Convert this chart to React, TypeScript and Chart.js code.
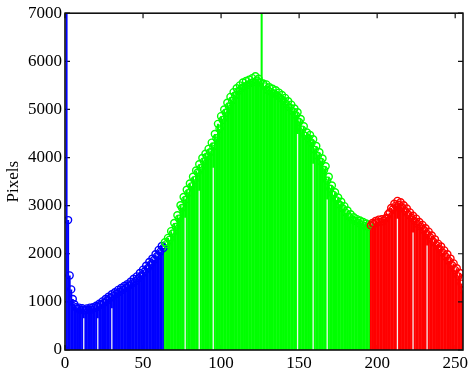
import { useEffect, useRef } from "react";
import { Chart, registerables } from "chart.js";

Chart.register(...registerables);

// Histogram counts for gray levels 0..255
const binCounts: number[] = [
  0, 9500, 2700, 1550, 1260, 1060, 950, 890, 860, 880, 830, 870, 840, 820, 865, 835,
  880, 840, 890, 870, 920, 900, 960, 940, 1010, 980, 1060, 1030, 1110, 1080, 1160, 1120,
  1200, 1170, 1250, 1210, 1290, 1250, 1330, 1290, 1370, 1340, 1420, 1380, 1480, 1430, 1530, 1490,
  1600, 1550, 1670, 1630, 1750, 1700, 1830, 1780, 1900, 1870, 1990, 1950, 2080, 2040, 2160, 2120,
  2240, 2200, 2330, 2290, 2470, 2420, 2640, 2560, 2800, 2730, 3010, 2950, 3180, 3120, 3330, 3260,
  3460, 3400, 3600, 3530, 3730, 3690, 3860, 3780, 3990, 3920, 4080, 4020, 4180, 4110, 4310, 4230,
  4490, 4400, 4700, 4600, 4860, 4780, 5000, 4930, 5140, 5060, 5260, 5180, 5360, 5290, 5440, 5380,
  5500, 5440, 5560, 5480, 5590, 5510, 5620, 5550, 5650, 5570, 5690, 5600, 5640, 5560, 7600, 5540,
  5480, 5520, 5400, 5460, 5360, 5430, 5330, 5400, 5290, 5350, 5240, 5300, 5180, 5240, 5110, 5170,
  5040, 5100, 4960, 5020, 4880, 4940, 4740, 4800, 4580, 4650, 4450, 4520, 4400, 4470, 4300, 4380,
  4160, 4240, 4030, 4110, 3910, 3980, 3740, 3820, 3520, 3600, 3350, 3420, 3220, 3280, 3110, 3170,
  3020, 3080, 2940, 2990, 2850, 2900, 2770, 2820, 2710, 2760, 2680, 2720, 2640, 2690, 2610, 2660,
  2580, 2630, 2560, 2600, 2590, 2640, 2620, 2680, 2650, 2710, 2660, 2720, 2680, 2730, 2750, 2820,
  2860, 2950, 2920, 3040, 3000, 3100, 3020, 3070, 2960, 3010, 2890, 2940, 2810, 2860, 2750, 2790,
  2680, 2730, 2620, 2660, 2560, 2600, 2490, 2530, 2410, 2460, 2340, 2380, 2250, 2300, 2180, 2210,
  2100, 2150, 2020, 2070, 1940, 1990, 1850, 1900, 1760, 1800, 1660, 1700, 1530, 1600, 1380, 1240,
];

// Empty bins visible as white stems, with the height up to which they stay white
const gapBins: number[] = [12, 21, 30, 77, 86, 95, 149, 159, 168, 213, 223, 232];
const gapTops: number[] = [660, 660, 870, 2750, 3310, 3790, 4490, 3870, 3130, 2730, 2440, 2170];

const xTicks: number[] = [0, 50, 100, 150, 200, 250];
const yTicks: number[] = [0, 1000, 2000, 3000, 4000, 5000, 6000, 7000];

const blueEnd = 63;
const redStart = 196;

const BLUE = "#0000ff";
const GREEN = "#00ff00";
const RED = "#ff0000";

function binColor(x: number): string {
  if (x <= blueEnd) return BLUE;
  if (x >= redStart) return RED;
  return GREEN;
}

const FONT = "'Liberation Serif', 'Times New Roman', serif";

export default function App() {
  const ref = useRef<HTMLCanvasElement>(null);

  useEffect(() => {
    const canvas = ref.current;
    if (!canvas) return;

    const barData = binCounts.map((y, x) => ({ x, y }));
    const gapData = gapBins.map((x, i) => ({ x, y: gapTops[i] }));
    const colors = barData.map((p) => binColor(p.x));

    const boxPlugin = {
      id: "matlabBox",
      beforeDatasetsDraw(chart: any) {
        const { ctx, chartArea } = chart;
        const xs = chart.scales.x;
        const ys = chart.scales.y;
        const len = 5;
        ctx.save();
        ctx.strokeStyle = "#111";
        ctx.lineWidth = 1.2;
        ctx.beginPath();
        xTicks.forEach((v) => {
          const px = xs.getPixelForValue(v);
          ctx.moveTo(px, chartArea.bottom);
          ctx.lineTo(px, chartArea.bottom - len);
        });
        yTicks.forEach((v) => {
          const py = ys.getPixelForValue(v);
          ctx.moveTo(chartArea.left, py);
          ctx.lineTo(chartArea.left + len, py);
        });
        ctx.stroke();
        ctx.restore();
      },
      afterDatasetsDraw(chart: any) {
        const { ctx, chartArea } = chart;
        const xs = chart.scales.x;
        const ys = chart.scales.y;
        const len = 5;
        ctx.save();
        ctx.strokeStyle = "#111";
        ctx.lineWidth = 1.2;
        ctx.beginPath();
        xTicks.forEach((v) => {
          const px = xs.getPixelForValue(v);
          ctx.moveTo(px, chartArea.top);
          ctx.lineTo(px, chartArea.top + len);
        });
        yTicks.forEach((v) => {
          const py = ys.getPixelForValue(v);
          ctx.moveTo(chartArea.right, py);
          ctx.lineTo(chartArea.right - len, py);
        });
        ctx.stroke();
        ctx.lineWidth = 1.6;
        ctx.strokeRect(
          chartArea.left,
          chartArea.top,
          chartArea.right - chartArea.left,
          chartArea.bottom - chartArea.top
        );
        ctx.restore();
      },
    };

    const chart = new Chart(canvas, {
      type: "bar",
      data: {
        datasets: [
          {
            type: "line",
            data: barData,
            showLine: false,
            pointRadius: 3.5,
            pointBorderWidth: 1.4,
            pointBackgroundColor: "rgba(0,0,0,0)",
            pointBorderColor: colors,
            pointHoverRadius: 3.5,
            order: 0,
          } as any,
          {
            type: "bar",
            data: gapData,
            backgroundColor: "#f2f2f2",
            borderWidth: 0,
            barPercentage: 0.8,
            categoryPercentage: 1,
            grouped: false,
            order: 1,
          } as any,
          {
            type: "bar",
            data: barData,
            backgroundColor: colors,
            borderWidth: 0,
            barPercentage: 1.3,
            categoryPercentage: 1,
            grouped: false,
            order: 2,
          } as any,
        ],
      },
      options: {
        animation: false,
        responsive: false,
        devicePixelRatio: 1,
        events: [],
        layout: { padding: { top: 11, right: 11, left: 0, bottom: 0 } },
        plugins: {
          legend: { display: false },
          tooltip: { enabled: false },
        },
        scales: {
          x: {
            type: "linear",
            min: 0,
            max: 255,
            offset: false,
            grid: { display: false, drawTicks: false },
            border: { display: false },
            afterBuildTicks: (s: any) => {
              s.ticks = xTicks.map((v) => ({ value: v }));
            },
            ticks: {
              color: "#000",
              font: { family: FONT, size: 17 },
              padding: 3,
              maxRotation: 0,
              autoSkip: false,
              callback: (v: any) => String(v),
            },
            afterFit: (s: any) => {
              s.height = 24;
            },
          },
          y: {
            type: "linear",
            min: 0,
            max: 7000,
            grid: { display: false, drawTicks: false },
            border: { display: false },
            afterBuildTicks: (s: any) => {
              s.ticks = yTicks.map((v) => ({ value: v }));
            },
            ticks: {
              color: "#000",
              font: { family: FONT, size: 17 },
              padding: 3,
              autoSkip: false,
              callback: (v: any) => String(v),
            },
            title: {
              display: true,
              text: "Pixels",
              color: "#000",
              font: { family: FONT, size: 17 },
              padding: { top: 3, bottom: 0 },
            },
            afterFit: (s: any) => {
              s.width = 65;
            },
          },
        },
      } as any,
      plugins: [boxPlugin],
    });

    return () => chart.destroy();
  }, []);

  return (
    <div style={{ position: "absolute", left: 0, top: 0, width: 474, height: 374, background: "#fff" }}>
      <canvas ref={ref} width={474} height={374} style={{ width: 474, height: 374, display: "block" }} />
    </div>
  );
}
